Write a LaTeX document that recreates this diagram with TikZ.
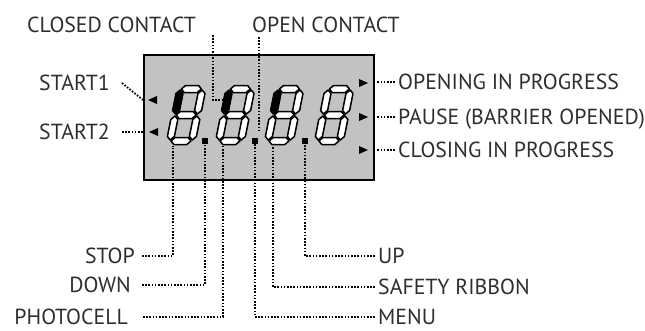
\documentclass[tikz,border=0pt]{standalone}
\usepackage{fontspec}
\setmainfont{PT Sans}
\usepackage{xcolor}
\usetikzlibrary{positioning, calc}

\definecolor{lcdgray}{HTML}{C2C2C2}
\definecolor{inkgray}{HTML}{2E2E2E}

% horizontal / vertical segment of the display (local units, height upwards)
\newcommand{\hseg}[4]{%
  \path[#1] ({#2+1},{-(#4)}) -- ({#2+4.5},{-(#4)-3.5}) -- ({#3-4.5},{-(#4)-3.5}) -- ({#3-1},{-(#4)})
    -- ({#3-4.5},{-(#4)+3.5}) -- ({#2+4.5},{-(#4)+3.5}) -- cycle;}
\newcommand{\vseg}[4]{%
  \path[#1] ({#2},{-(#3)-1}) -- ({#2+3.5},{-(#3)-4.5}) -- ({#2+3.5},{-(#4)+4.5}) -- ({#2},{-(#4)+1})
    -- ({#2-3.5},{-(#4)+4.5}) -- ({#2-3.5},{-(#3)-4.5}) -- cycle;}
% one slanted seven-segment digit; #3 = style of the upper left segment
\newcommand{\lcddigit}[3]{%
  \begin{scope}[shift={(#1,#2)}, xslant=0.2]
    \hseg{seg}{0}{22}{52}
    \hseg{seg}{0}{22}{26}
    \hseg{seg}{0}{22}{0}
    \vseg{#3}{0}{26}{52}
    \vseg{seg}{22}{26}{52}
    \vseg{seg}{0}{0}{26}
    \vseg{seg}{22}{0}{26}
  \end{scope}}

\begin{document}
\begin{tikzpicture}[
    x=1pt, y=-1pt,
    every node/.style={font=\fontsize{21.8}{25}\selectfont, text=inkgray, inner sep=0pt, text height=15pt, text depth=0pt},
    lbl/.style={inner xsep=3pt},
    seg/.style={draw=black, fill=white, line width=1.5pt, line join=round},
    segon/.style={seg, fill=black},
    dp/.style={fill=black, minimum width=6pt, minimum height=6pt, text height=0pt},
    dots/.style={draw=black, line width=1.8pt, dash pattern=on 1.6pt off 1.6pt},
    tip/.style={fill=black},
]
\useasboundingbox (0,0) rectangle (645,330);

% ---------- display ----------
\node[draw=black, line width=2.4pt, fill=lcdgray, minimum width=230pt, minimum height=125pt,
      text height=0pt, anchor=north west] (lcd) at (143,54) {};

\lcddigit{170}{141}{segon}
\lcddigit{219}{141}{segon}
\lcddigit{268}{141}{segon}
\lcddigit{318}{141}{seg}

\node[dp] (dp1) at (205,140.5) {};
\node[dp] (dp2) at (255,140.5) {};
\node[dp] (dp3) at (305,140.5) {};

% side arrows inside the display
\coordinate (s1) at (148,100);
\coordinate (s2) at (149,132);
\fill[tip] (s1) -- ++(9,-4) -- ++(0,8) -- cycle;
\fill[tip] (s2) -- ++(9,-4) -- ++(0,8) -- cycle;
\coordinate (o1) at (368,83);
\coordinate (o2) at (368,117);
\coordinate (o3) at (368,150);
\fill[tip] (o1) -- ++(-9,-4) -- ++(0,8) -- cycle;
\fill[tip] (o2) -- ++(-9,-4) -- ++(0,8) -- cycle;
\fill[tip] (o3) -- ++(-9,-4) -- ++(0,8) -- cycle;

% ---------- top labels ----------
\node[anchor=west] (closed) at (27,25) {CLOSED CONTACT};
\node[anchor=west] (open) at (252,25) {OPEN CONTACT};
\coordinate (c-closed) at (213,35);
\coordinate (pin-closed) at (222,100);
\coordinate (c-open) at (259,37);
\coordinate (pin-open) at (259,130);
\draw[dots] (c-closed) |- (pin-closed);
\draw[dots] (c-open) -- (pin-open);

% ---------- left labels ----------
\node[anchor=east, inner xsep=12pt] (start1) at (122,83) {START1};
\node[anchor=east, inner xsep=12pt] (start2) at (122,132) {START2};
\draw[dots] (start1.east) -- (s1 -| lcd.west);
\draw[dots] (start2.east) -- (s2 -| lcd.west);

% ---------- right labels ----------
\node[lbl, anchor=west] (opening) at (395,82) {OPENING IN PROGRESS};
\node[lbl, anchor=west] (pause) at (395,117) {PAUSE (BARRIER OPENED)};
\node[lbl, anchor=west] (closing) at (395,150) {CLOSING IN PROGRESS};
\draw[dots] (opening.west) -- ([xshift=2pt]opening.west -| lcd.east);
\draw[dots] (pause.west) -- ([xshift=2pt]pause.west -| lcd.east);
\draw[dots] (closing.west) -- ([xshift=2pt]closing.west -| lcd.east);

% ---------- bottom labels ----------
\node[anchor=east, inner xsep=7pt] (stop) at (142,256) {STOP};
\node[anchor=east, inner xsep=11pt] (down) at (142,285) {DOWN};
\node[anchor=east, inner xsep=15pt] (photo) at (143,317) {PHOTOCELL};
\node[lbl, anchor=west] (up) at (375,256) {UP};
\node[lbl, anchor=west] (safety) at (375,287) {SAFETY RIBBON};
\node[lbl, anchor=west] (menu) at (375,317) {MENU};

\coordinate (pin-stop) at (173,146);
\coordinate (pin-photo) at (223,146);
\coordinate (pin-safety) at (273,146);
\draw[dots] (stop.east) -| (pin-stop);
\draw[dots] (down.east) -| (dp1.south);
\draw[dots] (photo.east) -| (pin-photo);
\draw[dots] (up.west) -| (dp3.south);
\draw[dots] (safety.west) -| (pin-safety);
\draw[dots] (menu.west) -| (dp2.south);

\end{tikzpicture}
\end{document}
